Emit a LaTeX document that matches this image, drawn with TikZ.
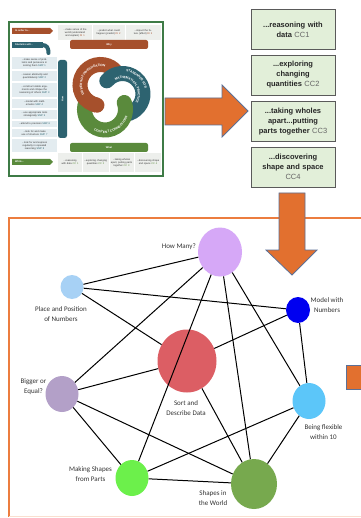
\documentclass[tikz,border=0pt]{standalone}
\usepackage{fontspec}
\setmainfont{Liberation Sans}
\newfontfamily\carl{Carlito}
\usetikzlibrary{shapes.geometric,decorations.text}
\definecolor{fwgreen}{HTML}{3E7B46}
\definecolor{fwbrown}{HTML}{A6502C}
\definecolor{fwteal}{HTML}{2D6370}
\definecolor{fwgreen2}{HTML}{5A8A3C}
\definecolor{cellgray}{HTML}{EDEFEC}
\definecolor{cellblue}{HTML}{E3ECF0}
\definecolor{arrorange}{HTML}{E2702F}
\definecolor{arredge}{HTML}{5B7097}
\definecolor{boxgreen}{HTML}{E2EFD9}
\definecolor{boxedge}{HTML}{5A5A5A}
\definecolor{framorange}{HTML}{EC7D3F}
\definecolor{ccgray}{HTML}{666666}
\definecolor{labcol}{HTML}{333333}
\definecolor{cHM}{HTML}{D6A8F7}
\definecolor{cPP}{HTML}{A7D1F5}
\definecolor{cMN}{HTML}{0000F0}
\definecolor{cSD}{HTML}{DC5E64}
\definecolor{cBE}{HTML}{B3A0C8}
\definecolor{cMS}{HTML}{6CF04B}
\definecolor{cSW}{HTML}{77A94E}
\definecolor{cBF}{HTML}{5CC6F9}
\newcommand\fwtiny{\fontsize{2.5}{2.9}\selectfont}
\newcommand\swfont{\fontsize{3.2}{4}\selectfont\bfseries\color{white}}
\newcommand\cc[1]{{\mdseries\color{ccgray}#1}}
\tikzset{
  fwtext/.style={font=\fwtiny, align=center, text width=#1, inner sep=0pt, text=black!80},
  fwlabel/.style={font=\fwtiny\bfseries, text=white, inner sep=0pt},
  ccbox/.style={draw=boxedge, line width=0.9pt, fill=boxgreen, minimum width=84pt, minimum height=40pt,
     text width=80pt, align=center, inner sep=0pt, font=\bfseries\fontsize{7.5}{10}\selectfont, text=black!85},
  dot/.style={ellipse, draw=none, inner sep=0pt},
  glabel/.style={font=\carl\fontsize{7}{10}\selectfont, text=labcol, align=center, inner sep=0pt},
  edge/.style={draw=black, line width=1pt},
  bigarrow/.style={fill=arrorange, draw=arredge, line width=0.8pt},
  swtext/.style={decorate, decoration={text along path, text={|\swfont|#1}, text align=center, raise=-1.1pt}}
}
\begin{document}
\begin{tikzpicture}[x=1pt,y=-1pt]
\useasboundingbox (0,0) rectangle (360,518);
\fill[white] (0,0) rectangle (360,518);

% ---------- framework graphic ----------
\draw[fwgreen, line width=2pt] (9,22) rectangle (163,176);
% top row
\fill[cellgray] (58,25) rectangle (91.5,40);
\fill[cellgray] (92.5,25) rectangle (124.5,40);
\fill[cellgray] (125.5,25) rectangle (161,40);
\node[fwtext=31] (w1) at (75,32.5) {...make sense of the world (understand and explain) \textcolor{fwbrown}{DI 1}};
\node[fwtext=30] (w2) at (108.5,32.5) {...predict what could happen (predict) \textcolor{fwbrown}{DI 2}};
\node[fwtext=30] (w3) at (143,32.5) {...impact the future (affect) \textcolor{fwbrown}{DI 3}};
\fill[fwbrown] (12,28) -- (50,28) -- (53,31) -- (50,34) -- (12,34) -- cycle;
\node[fwlabel, anchor=west] (inorder) at (15,31) {In order to...};
\fill[fwbrown, rounded corners=2pt] (70,40) -- (70,49) -- (148,49) -- (148,40) -- cycle;
\node[fwlabel] (why) at (109,45) {Why};
% students will
\fill[fwteal] (12,42) rectangle (43,48);
\draw[fwteal, line width=4pt, line cap=round] (42,45) .. controls (47,45) and (48.5,48) .. (48.5,53);
\node[fwlabel, anchor=west] (stud) at (15,45) {Students will...};
% left list
\foreach \ya/\yb in {57/69,71/81,83/97,99/108,110/119,121/127.5,129/137.5,139/152}
  \fill[cellblue] (12,\ya) rectangle (57,\yb);
\node[fwtext=33] (s1) at (34.5,63) {...make sense of problems and persevere in solving them \textcolor{fwteal}{SMP 1}};
\node[fwtext=33] (s2) at (34.5,76) {...reason abstractly and quantitatively \textcolor{fwteal}{SMP 2}};
\node[fwtext=33] (s3) at (34.5,90) {...construct viable arguments and critique the reasoning of others \textcolor{fwteal}{SMP 3}};
\node[fwtext=33] (s4) at (34.5,103.5) {...model with mathematics \textcolor{fwteal}{SMP 4}};
\node[fwtext=33] (s5) at (34.5,114.5) {...use appropriate tools strategically \textcolor{fwteal}{SMP 5}};
\node[fwtext=33] (s6) at (34.5,124.2) {...attend to precision \textcolor{fwteal}{SMP 6}};
\node[fwtext=33] (s7) at (34.5,133.2) {...look for and make use of structure \textcolor{fwteal}{SMP 7}};
\node[fwtext=33] (s8) at (34.5,145.5) {...look for and express regularity in repeated reasoning \textcolor{fwteal}{SMP 8}};
% how bar
\fill[fwteal, rounded corners=2.5pt] (58,60) rectangle (67,138);
\node[fwlabel, rotate=90] (how) at (62.5,99) {How};
% what bar and while
\fill[fwgreen2, rounded corners=2pt] (70,152) -- (70,143) -- (148,143) -- (148,152) -- cycle;
\node[fwlabel] (what) at (109,147.5) {What};
\fill[fwgreen2] (12,159) -- (50,159) -- (53,162) -- (50,165) -- (12,165) -- cycle;
\node[fwlabel, anchor=west] (while) at (15,162) {While...};
\fill[cellgray] (58,153) rectangle (81.5,172);
\fill[cellgray] (82.5,153) rectangle (108.5,172);
\fill[cellgray] (109.5,153) rectangle (133.5,172);
\fill[cellgray] (134.5,153) rectangle (161,172);
\node[fwtext=22] (b1) at (70,162.5) {...reasoning with data \textcolor{fwgreen2}{CC 1}};
\node[fwtext=24] (b2) at (95.5,162.5) {...exploring changing quantities \textcolor{fwgreen2}{CC 2}};
\node[fwtext=23] (b3) at (121.5,162.5) {...taking wholes apart, putting parts together \textcolor{fwgreen2}{CC 3}};
\node[fwtext=24] (b4) at (148,162.5) {...discovering shape and space \textcolor{fwgreen2}{CC 4}};
% swirl
\begin{scope}[line width=15pt, line cap=round]
\draw[fwbrown] (100.5,85) ++(100:20.5) arc[start angle=100, end angle=320, radius=20.5];
\draw[fwteal] (122.5,94) ++(220:20.5) arc[start angle=220, end angle=440, radius=20.5];
\draw[fwgreen2] (105,109.5) ++(340:20.5) arc[start angle=340, end angle=560, radius=20.5];
\draw[fwbrown, line cap=butt] (100.5,85) ++(100:20.5) arc[start angle=100, end angle=150, radius=20.5];
\end{scope}
\path[swtext={DRIVERS OF INVESTIGATION}] (100.5,85) ++(130:19.5) arc[start angle=130, end angle=305, radius=19.5];
\path[swtext={STANDARDS FOR}] (122.5,94) ++(250:24) arc[start angle=250, end angle=375, radius=24];
\path[swtext={MATHEMATICAL PRACTICE}] (122.5,94) ++(240:16.5) arc[start angle=240, end angle=395, radius=16.5];
\path[swtext={CONTENT CONNECTIONS}] (105,109.5) ++(150:22.5) arc[start angle=150, end angle=-15, radius=22.5];

% ---------- right arrow ----------
\path[bigarrow] (165,98) -- (222,98) -- (222,85) -- (248,111) -- (222,137) -- (222,125) -- (165,125) -- cycle;

% ---------- content connection boxes ----------
\node[ccbox] (c1) at (293,29.5) {...reasoning with\\data \cc{CC1}};
\node[ccbox] (c2) at (293,75) {...exploring\\changing\\quantities \cc{CC2}};
\node[ccbox] (c3) at (293,121.5) {...taking wholes\\apart...putting\\parts together \cc{CC3}};
\node[ccbox] (c4) at (293,167) {...discovering\\shape and space\\\cc{CC4}};

% ---------- orange frame ----------
\draw[framorange, line width=2pt] (362,218) -- (9,218) -- (9,517);
\draw[framorange!25, line width=1pt] (9,516.5) -- (362,516.5);
\path[bigarrow] (279,193) -- (305,193) -- (305,250) -- (317,250) -- (292,275) -- (266,250) -- (279,250) -- cycle;
\path[bigarrow] (346,365) rectangle (364,389);

% ---------- graph ----------
\node[dot, fill=cHM, minimum width=44pt, minimum height=49pt] (hm) at (220,252) {};
\node[dot, fill=cPP, minimum width=23pt, minimum height=24pt] (pp) at (72,287) {};
\node[dot, fill=cMN, minimum width=24pt, minimum height=26pt] (mn) at (298,310) {};
\node[dot, fill=cSD, minimum width=59pt, minimum height=63pt] (sd) at (187,361) {};
\node[dot, fill=cBE, minimum width=33pt, minimum height=36pt] (be) at (62,394) {};
\node[dot, fill=cMS, minimum width=33pt, minimum height=36pt] (ms) at (132,478) {};
\node[dot, fill=cSW, minimum width=46pt, minimum height=50pt] (sw) at (254,484) {};
\node[dot, fill=cBF, minimum width=33pt, minimum height=36pt] (bf) at (309,401) {};

\foreach \a/\b in {hm/pp, hm/be, hm/ms, hm/sw, hm/bf, pp/mn, pp/sd, mn/sd, mn/bf,
                   sd/be, sd/sw, be/sw, be/ms, ms/bf, ms/sw, bf/sw}
  \draw[edge] (\a) -- (\b);

\node[glabel, anchor=east] (lhm) at (196,247) {How Many?};
\node[glabel] (lpp) at (61,314) {Place and Position\\of Numbers};
\node[glabel] (lmn) at (327,305) {Model with\\Numbers};
\node[glabel] (lsd) at (186,408) {Sort and\\Describe Data};
\node[glabel] (lbe) at (33.5,387) {Bigger or\\Equal?};
\node[glabel] (lms) at (90.5,474) {Making Shapes\\from Parts};
\node[glabel] (lsw) at (213,498) {Shapes in\\the World};
\node[glabel] (lbf) at (323.5,432) {Being flexible\\within 10};
\end{tikzpicture}
\end{document}
